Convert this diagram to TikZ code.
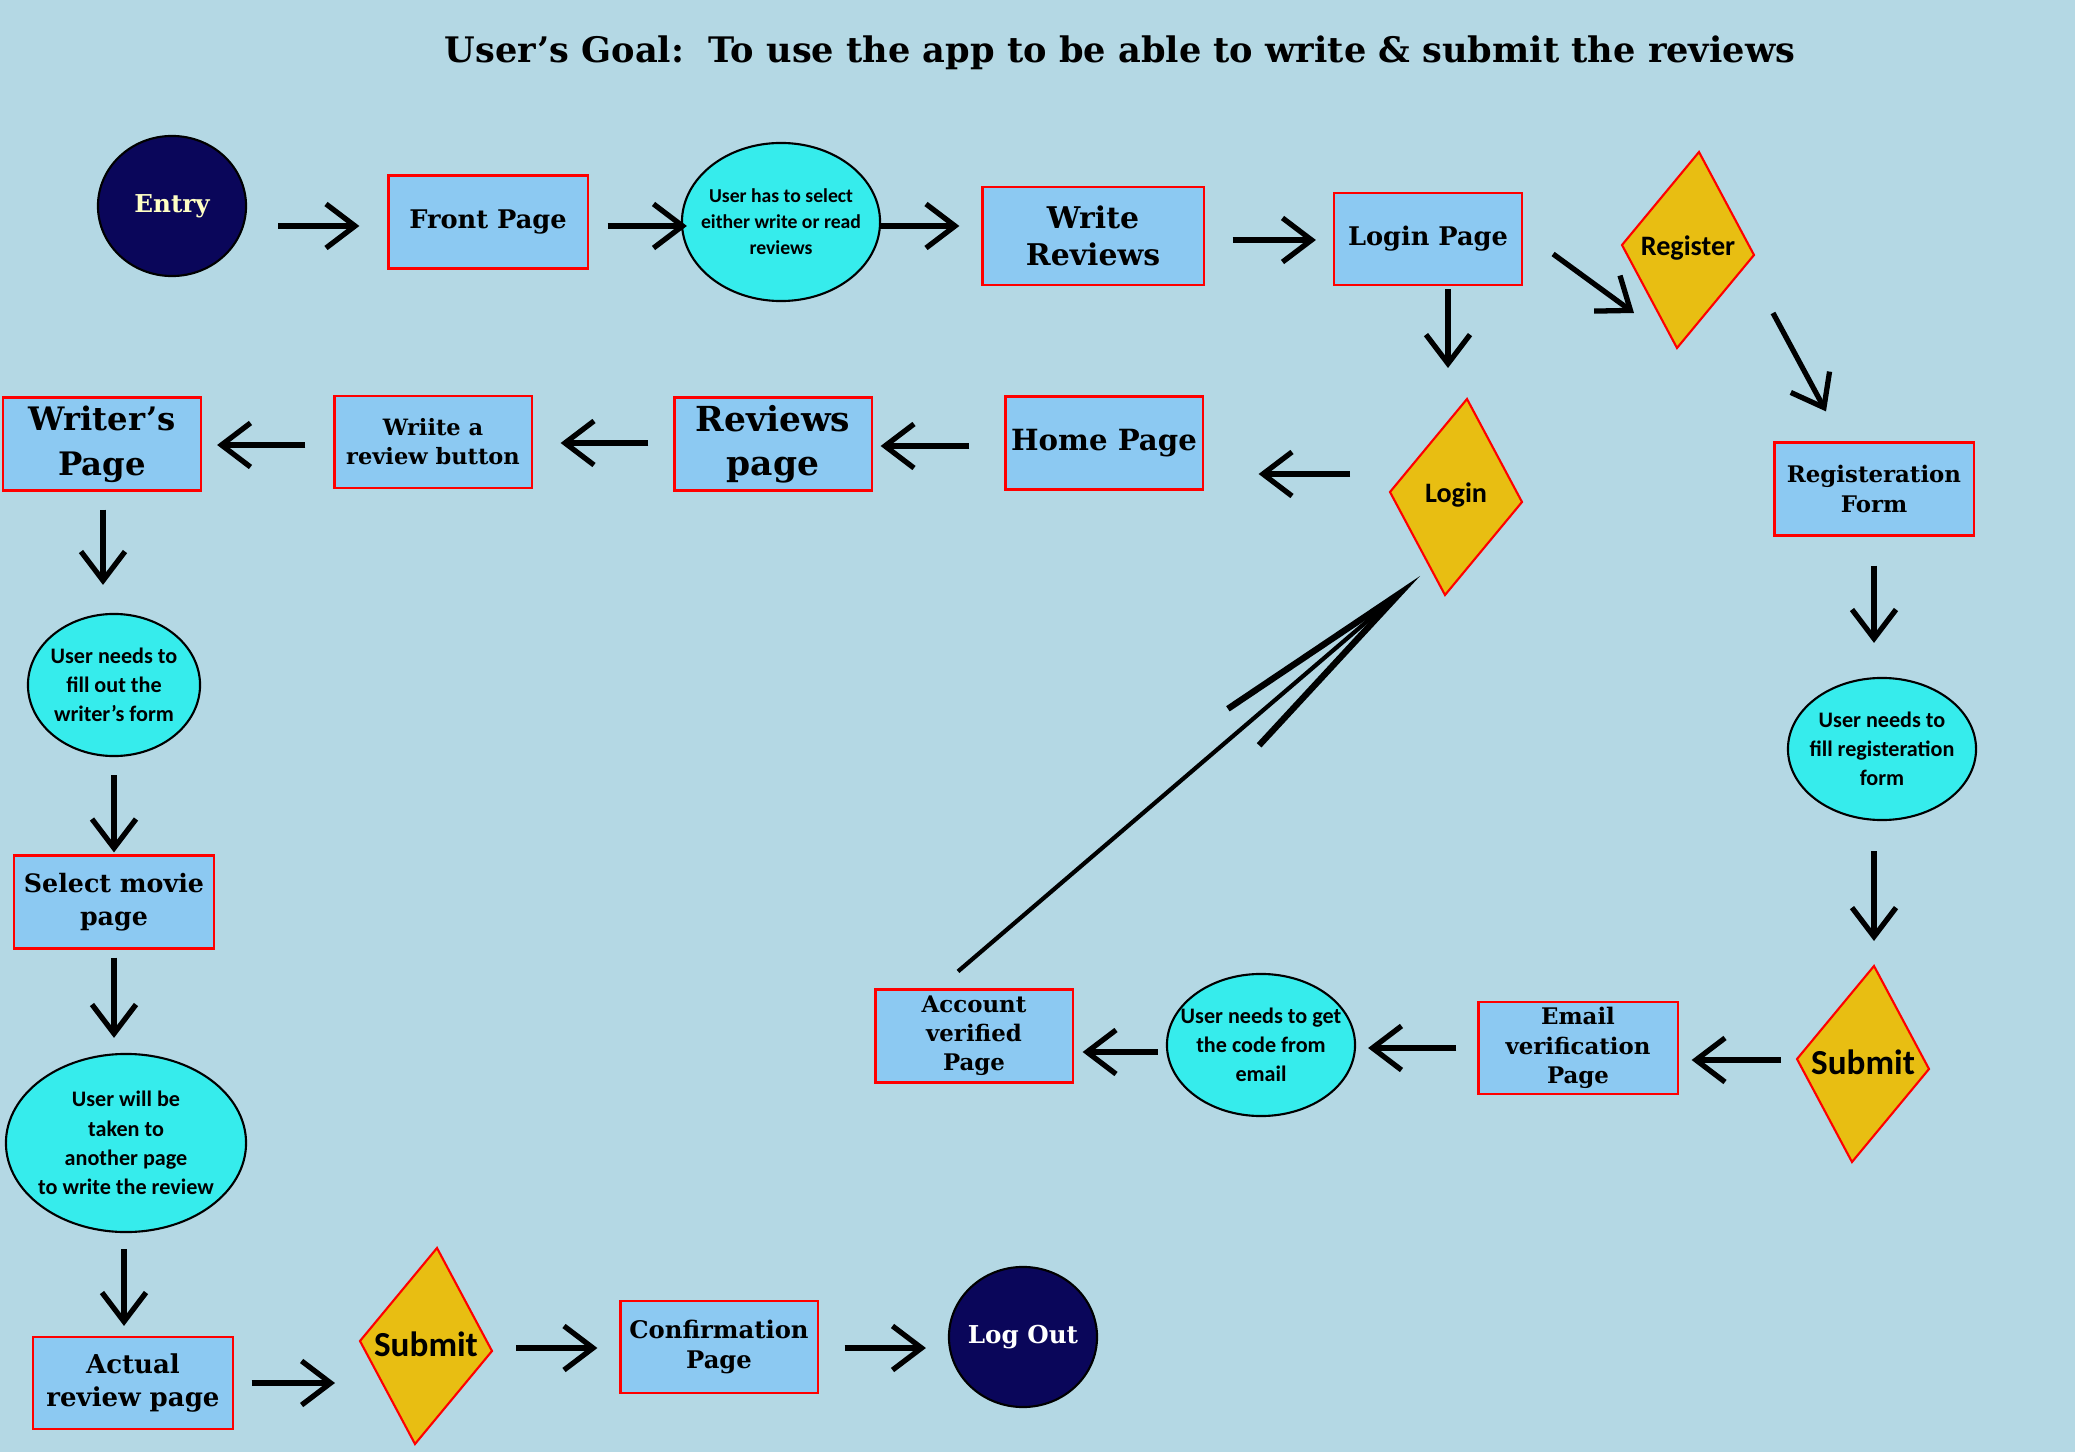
\documentclass[tikz,border=0pt]{standalone}
\usepackage{fontspec}
\setmainfont{DejaVu Serif}
\newfontfamily\labelfont{Carlito}
\usetikzlibrary{shapes.geometric,arrows.meta}
\definecolor{bgblue}{HTML}{B4D8E4}
\definecolor{pageblue}{HTML}{8CC9F2}
\definecolor{stepcyan}{HTML}{36ECEC}
\definecolor{choicegold}{HTML}{E8BE12}
\definecolor{endnavy}{HTML}{0A065A}
\definecolor{entryyellow}{HTML}{FFFFC4}
\newcommand{\txtsize}[2]{\fontsize{#1}{#2}\selectfont}

\begin{document}
\begin{tikzpicture}[x=0.01cm, y=-0.01cm,
    page/.style={rectangle, draw=red, line width=0.6pt, fill=pageblue, align=center,
                 inner sep=1pt, minimum width=19.9mm, minimum height=9.3mm},
    act/.style={ellipse, draw=black, line width=0.6pt, fill=stepcyan, align=center,
                inner sep=-4mm, font=\labelfont\bfseries\txtsize{6.3}{8.3}},
    term/.style={ellipse, draw=black, line width=0.6pt, fill=endnavy, inner sep=-4mm,
                 minimum width=14.8mm, minimum height=14mm},
    choice/.style={draw=red, line width=0.6pt, fill=choicegold},
    arr/.style={-{Straight Barb[length=2.9mm, width=4.4mm]}, line width=1.5pt},
    bigarr/.style={-{Straight Barb[length=20.5mm, width=4.8mm, line width=1.8pt]}, line width=1.2pt},
  ]
    \fill[bgblue] (0,0) rectangle (2075,1452);

    \node[font=\bfseries\txtsize{10}{11}] (title) at (1120,53)
        {User’s Goal:\ \ To use the app to be able to write \& submit the reviews};

    % top row
    \node[term, text=entryyellow, font=\bfseries\txtsize{7}{8}] (entry) at (172,206) {Entry};
    \node[page, font=\bfseries\txtsize{7.3}{9}] (front) at (488,222) {Front Page};
    \node[act, minimum width=19.8mm, minimum height=15.8mm, font=\labelfont\bfseries\txtsize{5.6}{7.4}]
        (select) at (781,222) {User has to select\\either write or read\\reviews};
    \node[page, minimum width=22.1mm, minimum height=9.8mm, font=\bfseries\txtsize{8.5}{10.5}]
        (write) at (1093,236) {Write\\Reviews};
    \node[page, minimum width=18.8mm, minimum height=9.2mm, font=\bfseries\txtsize{7.3}{9}]
        (loginpage) at (1428,239) {Login Page};

    % right column
    \node[page, font=\bfseries\txtsize{6.5}{8.3}] (regform) at (1874,489) {Registeration\\Form};
    \node[act, minimum width=18.8mm, minimum height=14.2mm] (rform) at (1882,749)
        {User needs to\\fill registeration\\form};
    \node[page, minimum height=9.2mm, font=\bfseries\txtsize{6.5}{8.3}] (email) at (1578,1048)
        {Email\\verification\\Page};
    \node[act, minimum width=18.8mm, minimum height=14.2mm] (code) at (1261,1045)
        {User needs to get\\the code from\\email};
    \node[page, minimum width=19.7mm, font=\bfseries\txtsize{6.5}{8.3}] (account) at (974,1036)
        {Account\\verified\\Page};

    % middle row
    \node[page, minimum width=19.7mm, font=\bfseries\txtsize{8.3}{10}] (home) at (1104,443) {Home Page};
    \node[page, minimum width=19.7mm, font=\bfseries\txtsize{9.8}{12.4}] (reviews) at (773,444)
        {Reviews\\page};
    \node[page, minimum width=19.7mm, minimum height=9.2mm, font=\bfseries\txtsize{6.4}{8.3}]
        (wriite) at (433,442) {Wriite a\\review button};
    \node[page, minimum width=19.8mm, font=\bfseries\txtsize{9.2}{12.8}] (writers) at (102,444)
        {Writer’s\\Page};

    % left column
    \node[act, minimum width=17.2mm, minimum height=14.2mm] (wform) at (114,685)
        {User needs to\\fill out the\\writer’s form};
    \node[page, font=\bfseries\txtsize{7.2}{9.5}] (movie) at (114,902) {Select movie\\page};
    \node[act, minimum width=24mm, minimum height=17.8mm] (taken) at (126,1143)
        {User will be\\taken to\\another page\\to write the review};
    \node[page, minimum height=9.2mm, font=\bfseries\txtsize{7.4}{9.5}] (actual) at (133,1383)
        {Actual\\review page};
    \node[page, minimum width=19.7mm, minimum height=9.2mm, font=\bfseries\txtsize{6.9}{8.3}]
        (confirm) at (719,1347) {Confirmation\\Page};
    \node[term, text=white, font=\bfseries\txtsize{7}{8}] (logout) at (1023,1337) {Log Out};

    % decisions
    \foreach \n/\x/\y/\s/\t in {register/1688/250/8/Register, login/1456/497/8/Login,
                                submitr/1863/1064/10/Submit, submitb/426/1346/10/Submit}{
        \path[choice] (\x+11,\y-98) -- ++(55,103) -- ++(-77,93) -- ++(-55,-103) -- cycle;
        \node[font=\labelfont\bfseries\txtsize{\s}{\s}] (\n) at (\x,\y-2) {\t};
    }

    % connectors
    \draw[arr] ([shift={(31,20)}]entry.east) -- ([shift={(-28,4)}]front.west);
    \draw[arr] ([shift={(19,4)}]front.east) -- ([shift={(6,4)}]select.west);
    \draw[arr] ([shift={(-1,4)}]select.east) -- ([shift={(-22,-10)}]write.west);
    \draw[arr] ([shift={(28,4)}]write.east) -- ([shift={(-17,1)}]loginpage.west);
    \draw[arr] ([shift={(30,15)}]loginpage.east) -- ([shift={(-54,65)}]register.center);
    \draw[arr] ([shift={(85,65)}]register.center) -- ([shift={(-48,-30)}]regform.north);
    \draw[arr] ([shift={(20,3)}]loginpage.south) -- ([shift={(-8,-127)}]login.center);
    \draw[arr] ([shift={(-106,-21)}]login.center) -- ([shift={(55,31)}]home.east);
    \draw[arr] ([shift={(-35,3)}]home.west) -- ([shift={(8,2)}]reviews.east);
    \draw[arr] ([shift={(-25,-1)}]reviews.west) -- ([shift={(28,1)}]wriite.east);
    \draw[arr] ([shift={(-28,3)}]wriite.west) -- ([shift={(15,1)}]writers.east);
    \draw[arr] ([shift={(1,18)}]writers.south) -- ([shift={(-11,-28)}]wform.north);
    \draw[arr] ([shift={(0,18)}]wform.south) -- ([shift={(0,-2)}]movie.north);
    \draw[arr] ([shift={(0,8)}]movie.south) -- ([shift={(-12,-15)}]taken.north);
    \draw[arr] ([shift={(-2,16)}]taken.south) -- ([shift={(-9,-10)}]actual.north);
    \draw[arr] ([shift={(18,0)}]actual.east) -- ([shift={(-91,39)}]submitb.center);
    \draw[arr] ([shift={(90,4)}]submitb.center) -- ([shift={(-22,1)}]confirm.west);
    \draw[arr] ([shift={(26,1)}]confirm.east) -- ([shift={(-22,11)}]logout.west);
    \draw[arr] ([shift={(0,29)}]regform.south) -- ([shift={(-8,-34)}]rform.north);
    \draw[arr] ([shift={(-8,30)}]rform.south) -- ([shift={(11,-121)}]submitr.center);
    \draw[arr] ([shift={(-82,-2)}]submitr.center) -- ([shift={(13,12)}]email.east);
    \draw[arr] ([shift={(-21,0)}]email.west) -- ([shift={(12,3)}]code.east);
    \draw[arr] ([shift={(-8,7)}]code.west) -- ([shift={(9,16)}]account.east);
    \draw[bigarr] ([shift={(-16,-17)}]account.north) -- ([shift={(-36,81)}]login.center);

\end{tikzpicture}
\end{document}
